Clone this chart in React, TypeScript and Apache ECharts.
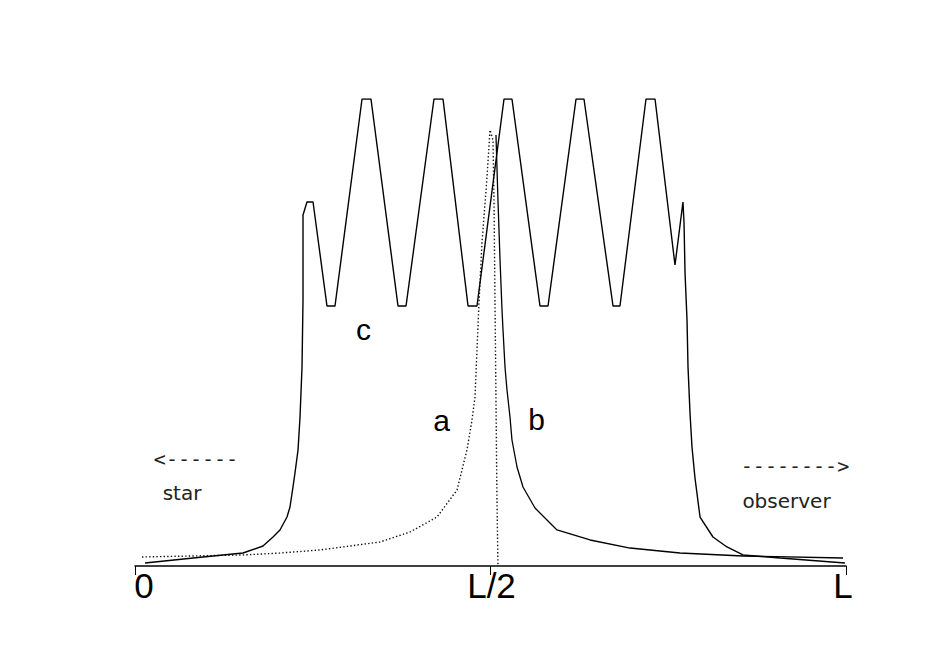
import React, { useEffect, useRef } from "react";
import * as echarts from "echarts";

// x in percent of the path length L, y in arbitrary intensity units (peak of c = 100)
const tickValues = [0, 50, 100];
const tickLabels = ["0", "L/2", "L"];

const curveC: [number, number][] = [
  [1.41, 0.64], [9.56, 1.93], [15.19, 2.78], [18.0, 4.28], [19.41, 6.21], [20.39, 7.71],
  [21.38, 10.49], [21.8, 12.63], [22.22, 16.92], [22.5, 19.91], [22.93, 24.84], [23.21, 31.91],
  [23.49, 42.61], [23.63, 56.96], [23.63, 75.16], [24.19, 77.94], [25.04, 77.94],
  [27.0, 55.67], [28.13, 55.67], [31.93, 100], [33.19, 100],
  [36.99, 55.67], [38.12, 55.67], [42.05, 100], [43.32, 100],
  [46.84, 55.67], [48.1, 55.67], [51.9, 100], [53.02, 100],
  [56.96, 55.67], [58.09, 55.67], [62.03, 100], [63.15, 100],
  [67.23, 55.67], [68.21, 55.67], [71.87, 100], [73.14, 100],
  [75.95, 64.45], [77.07, 77.94], [77.22, 73.45], [77.36, 62.74], [77.64, 52.68],
  [77.78, 42.61], [78.06, 32.76], [78.34, 25.48], [78.76, 18.84], [79.47, 10.49],
  [81.29, 6.21], [83.26, 4.07], [85.51, 2.36], [90.72, 1.71], [99.86, 0.64],
];

const curveA: [number, number][] = [
  [0.98, 1.93], [15.19, 2.36], [20.39, 2.78], [26.02, 3.43], [34.46, 5.14], [38.68, 7.28],
  [42.48, 10.49], [45.29, 16.27], [46.69, 24.84], [47.4, 31.26], [47.82, 36.19],
  [48.38, 56.32], [48.8, 69.16], [49.51, 83.3], [49.93, 93.36],
  [50.35, 91.22], [50.49, 78.37], [50.63, 56.96], [50.77, 35.55], [50.91, 14.13], [51.05, 0],
];

const curveB: [number, number][] = [
  [50.77, 92.29], [51.05, 78.37], [51.34, 65.52], [51.62, 54.82], [51.76, 50.54],
  [52.04, 42.61], [52.32, 37.69], [52.74, 31.91], [53.02, 26.98], [53.73, 21.2],
  [54.57, 16.92], [56.26, 12.42], [59.35, 7.71], [64.0, 5.57], [69.62, 3.85],
  [76.65, 2.78], [85.51, 2.14], [99.58, 1.71],
];

const curveNames = ["a", "b", "c"];
const sideTexts = ["<------", "star", "-------->", "observer"];

export default function App() {
  const ref = useRef<HTMLDivElement>(null);

  useEffect(() => {
    if (!ref.current) return;
    const chart = echarts.init(ref.current, null, { renderer: "svg" });
    const black = "#000";
    const labelFont = "'Liberation Sans', Arial, sans-serif";
    const smallFont = "'DejaVu Sans', sans-serif";
    const monoFont = "'DejaVu Sans Mono', monospace";

    chart.setOption({
      animation: false,
      backgroundColor: "#fff",
      grid: { left: 135, right: 85, top: 99, bottom: 101, containLabel: false },
      xAxis: {
        type: "value",
        min: 0,
        max: 100,
        interval: 50,
        axisLine: { show: true, lineStyle: { color: black, width: 1.5 } },
        axisTick: { show: true, length: 9, lineStyle: { color: black, width: 1 } },
        splitLine: { show: false },
        axisLabel: {
          margin: 2,
          color: black,
          fontFamily: labelFont,
          fontSize: 35,
          formatter: (v: number) => {
            const i = tickValues.indexOf(v);
            if (i < 0) return "";
            const key = i === 0 ? "z" : i === 1 ? "h" : "e";
            return "{" + key + "|" + tickLabels[i] + "}";
          },
          rich: {
            z: { fontSize: 35, fontFamily: labelFont, color: black, padding: [0, 0, 0, 18] },
            h: { fontSize: 35, fontFamily: labelFont, color: black, padding: [0, 0, 0, 2] },
            e: { fontSize: 35, fontFamily: labelFont, color: black, padding: [0, 6, 0, 0] },
          },
        },
      },
      yAxis: { type: "value", min: 0, max: 100, show: false, splitLine: { show: false } },
      series: [
        {
          name: "c",
          type: "line",
          data: curveC,
          symbol: "none",
          lineStyle: { color: black, width: 1.4 },
          z: 3,
        },
        {
          name: "a",
          type: "line",
          data: curveA,
          symbol: "none",
          lineStyle: { color: "#111", width: 1.4, type: [1.4, 2.2] },
          z: 2,
        },
        {
          name: "b",
          type: "line",
          data: curveB,
          symbol: "none",
          lineStyle: { color: black, width: 1.3 },
          z: 3,
        },
      ],
      graphic: [
        { type: "text", x: 441.5, y: 420, style: { text: curveNames[0], font: "30px " + labelFont, fill: black, align: "center", verticalAlign: "middle" } },
        { type: "text", x: 536.5, y: 419.5, style: { text: curveNames[1], font: "30px " + labelFont, fill: black, align: "center", verticalAlign: "middle" } },
        { type: "text", x: 363.5, y: 329.5, style: { text: curveNames[2], font: "30px " + labelFont, fill: black, align: "center", verticalAlign: "middle" } },
        { type: "text", x: 196, y: 459, style: { text: sideTexts[0], font: "20px " + monoFont, fill: "#222", align: "center", verticalAlign: "middle" } },
        { type: "text", x: 182, y: 493, style: { text: sideTexts[1], font: "20px " + smallFont, fill: "#222", align: "center", verticalAlign: "middle" } },
        { type: "text", x: 795, y: 466, style: { text: sideTexts[2], font: "20px " + monoFont, fill: "#222", align: "center", verticalAlign: "middle" } },
        { type: "text", x: 786.5, y: 501, style: { text: sideTexts[3], font: "20px " + smallFont, fill: "#222", align: "center", verticalAlign: "middle" } },
      ],
    });

    return () => chart.dispose();
  }, []);

  return (
    <div
      ref={ref}
      style={{ position: "absolute", left: 0, top: 0, width: 931, height: 667, background: "#fff" }}
    />
  );
}
